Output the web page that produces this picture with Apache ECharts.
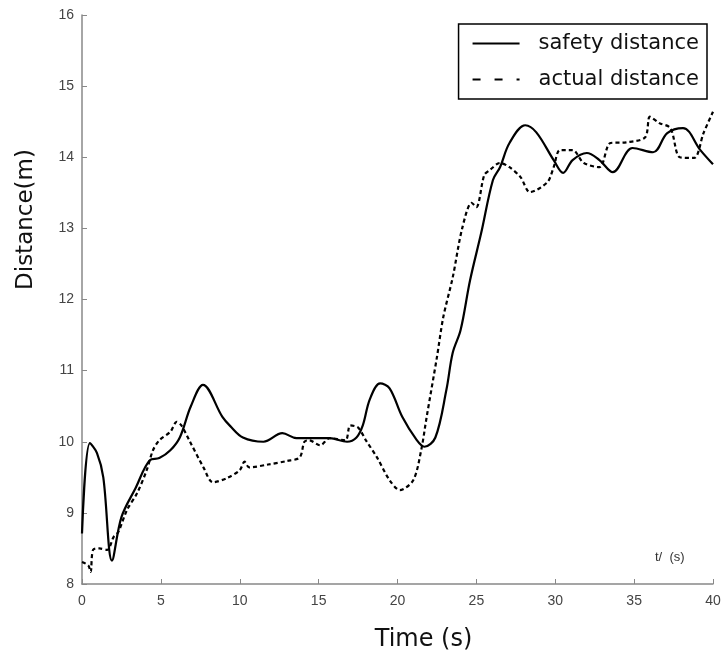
<!DOCTYPE html>
<html>
<head>
  <meta charset="utf-8">
  <script src="https://cdn.jsdelivr.net/npm/echarts@6/dist/echarts.min.js"></script>
</head>
<body style="margin:0">
<div id="main" style="width:726px;height:661px;"></div>
<script type="text/javascript">
var safetyT = [0, 0.5, 0.95, 1.35, 1.9, 2.5, 3.4, 4.3, 4.9, 5.6, 6.2, 6.9, 7.67, 8.9, 9.4, 10.2, 11.5, 12.7, 13.6, 15.7, 16.8, 17.4, 17.8, 18.25, 18.9, 19.5, 20.3, 21.2, 21.7, 22.4, 23.1, 23.5, 24.0, 24.6, 25.3, 26.05, 26.5, 27.1, 28.1, 28.8, 29.9, 30.5, 31.1, 32.0, 32.8, 33.65, 34.9, 36.2, 37.1, 38.1, 39.2, 40];
var safetyV = [8.71, 9.98, 9.84, 9.5, 8.33, 8.94, 9.35, 9.74, 9.77, 9.88, 10.06, 10.5, 10.8, 10.35, 10.22, 10.06, 10.0, 10.12, 10.05, 10.05, 10.0, 10.06, 10.23, 10.6, 10.82, 10.75, 10.35, 10.03, 9.93, 10.06, 10.73, 11.25, 11.57, 12.27, 12.93, 13.68, 13.86, 14.2, 14.45, 14.35, 13.96, 13.78, 13.96, 14.06, 13.96, 13.79, 14.13, 14.07, 14.34, 14.41, 14.1, 13.9];

var actualT = [0, 0.4, 0.55, 0.7, 1.1, 1.6, 2.0, 2.3, 2.85, 3.5, 4.1, 4.5, 4.9, 5.6, 6.0, 6.3, 6.8, 7.7, 8.3, 9.2, 10.0, 10.3, 10.6, 11.8, 13.0, 13.8, 14.1, 14.4, 15.1, 15.7, 16.7, 17.0, 17.5, 18.0, 18.7, 19.5, 20.15, 21.0, 21.5, 21.85, 22.5, 22.9, 23.5, 24.1, 24.7, 25.0, 25.5, 25.85, 26.5, 27.1, 27.8, 28.4, 29.5, 29.9, 30.3, 31.1, 31.8, 32.8, 33.5, 34.5, 35.7, 36.0, 36.6, 37.3, 37.9, 38.8, 39.4, 40];
var actualV = [8.31, 8.26, 8.17, 8.48, 8.5, 8.48, 8.66, 8.73, 9.04, 9.28, 9.6, 9.88, 10.02, 10.14, 10.28, 10.23, 10.02, 9.64, 9.43, 9.49, 9.6, 9.72, 9.64, 9.68, 9.73, 9.78, 10.0, 10.02, 9.95, 10.05, 10.02, 10.23, 10.2, 10.02, 9.78, 9.46, 9.32, 9.46, 9.88, 10.35, 11.19, 11.75, 12.31, 13.0, 13.36, 13.3, 13.75, 13.82, 13.92, 13.86, 13.72, 13.51, 13.65, 13.86, 14.1, 14.1, 13.92, 13.86, 14.2, 14.21, 14.28, 14.57, 14.48, 14.41, 14.0, 13.99, 14.34, 14.64];

function pairs(t, v) {
  var res = [];
  for (var i = 0; i < t.length; i++) res.push([t[i], v[i]]);
  return res;
}

var myChart = echarts.init(document.getElementById('main'));
var axisColor = '#888';
var labelColor = '#444';
myChart.setOption({
  backgroundColor: '#fff',
  animation: false,
  grid: { left: 82, right: 13, top: 15, bottom: 77 },
  legend: {
    orient: 'vertical',
    right: 19,
    top: 24,
    itemWidth: 47,
    itemHeight: 14,
    itemGap: 15,
    padding: [9, 8, 9, 13],
    borderColor: '#000',
    borderWidth: 1.5,
    borderRadius: 0,
    textStyle: { fontSize: 21, color: '#111', fontFamily: 'DejaVu Sans', padding: [0, 0, 0, 14] },
    data: [
      { name: 'safety distance', itemStyle: { opacity: 0 }, lineStyle: { width: 2 } },
      { name: 'actual distance', itemStyle: { opacity: 0 }, lineStyle: { width: 2, type: [8, 14] } }
    ]
  },
  xAxis: {
    type: 'value',
    min: 0, max: 40, interval: 5,
    name: 'Time (s)',
    nameLocation: 'middle',
    nameGap: 44,
    nameTextStyle: { fontSize: 24, color: '#111', fontFamily: 'DejaVu Sans', padding: [0, 0, 0, 52] },
    axisLine: { lineStyle: { color: axisColor, width: 1.5 } },
    axisTick: { inside: true, length: 5, lineStyle: { color: axisColor } },
    axisLabel: { color: labelColor, fontSize: 14, margin: 10, fontFamily: 'Liberation Sans' },
    splitLine: { show: false }
  },
  yAxis: {
    type: 'value',
    min: 8, max: 16, interval: 1,
    name: 'Distance(m)',
    nameLocation: 'middle',
    nameGap: 44,
    nameTextStyle: { fontSize: 23, color: '#111', fontFamily: 'DejaVu Sans', padding: [0, 0, 0, 160] },
    axisLine: { show: true, lineStyle: { color: axisColor, width: 1.5 } },
    axisTick: { show: true, inside: true, length: 5, lineStyle: { color: axisColor } },
    axisLabel: { color: labelColor, fontSize: 14, margin: 8, fontFamily: 'Liberation Sans' },
    splitLine: { show: false }
  },
  graphic: [{
    type: 'text',
    left: 655, top: 551,
    style: { text: 't/  (s)', fontSize: 13, fill: '#333', fontFamily: 'Liberation Sans' }
  }],
  series: [
    {
      name: 'safety distance',
      type: 'line',
      data: pairs(safetyT, safetyV),
      smooth: 0.35,
      symbol: 'none',
      lineStyle: { color: '#000', width: 2.2 },
      itemStyle: { color: '#000' }
    },
    {
      name: 'actual distance',
      type: 'line',
      data: pairs(actualT, actualV),
      smooth: 0.3,
      symbol: 'none',
      lineStyle: { color: '#000', width: 2.2, type: [4, 3] },
      itemStyle: { color: '#000' }
    }
  ]
});
</script>
</body>
</html>
